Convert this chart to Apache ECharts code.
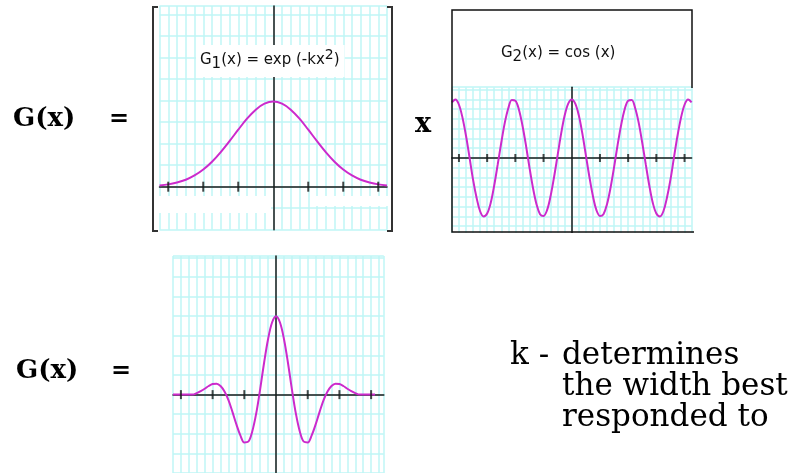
<!DOCTYPE html>
<html>
<head>
<meta charset="utf-8">
<script src="https://cdn.jsdelivr.net/npm/echarts@6/dist/echarts.min.js"></script>
<style>
  html, body { margin: 0; padding: 0; background: #ffffff; }
  #chart { width: 801px; height: 473px; }
</style>
</head>
<body>
<div id="chart"></div>
<script>
// Gaussian envelope G1(x) = exp(-k x^2)
const gaussX = [-3.25, -3, -2.75, -2.5, -2.25, -2, -1.75, -1.5, -1.25, -1, -0.75, -0.5, -0.25, 0,
                0.25, 0.5, 0.75, 1, 1.25, 1.5, 1.75, 2, 2.25, 2.5, 2.75, 3, 3.25];
const gaussY = [0.015, 0.027, 0.049, 0.081, 0.131, 0.200, 0.291, 0.403, 0.530, 0.663, 0.791, 0.896, 0.965, 0.99,
                0.965, 0.896, 0.791, 0.663, 0.530, 0.403, 0.291, 0.200, 0.131, 0.081, 0.049, 0.027, 0.015];

// Carrier G2(x) = cos(x)
const cosX = [-4.25, -4.125, -4, -3.875, -3.75, -3.625, -3.5, -3.375, -3.25, -3.125, -3, -2.875, -2.75, -2.625,
              -2.5, -2.375, -2.25, -2.125, -2, -1.875, -1.75, -1.625, -1.5, -1.375, -1.25, -1.125, -1, -0.875,
              -0.75, -0.625, -0.5, -0.375, -0.25, -0.125, 0,
              0.125, 0.25, 0.375, 0.5, 0.625, 0.75, 0.875, 1, 1.125, 1.25, 1.375, 1.5, 1.625, 1.75, 1.875, 2,
              2.125, 2.25, 2.375, 2.5, 2.625, 2.75, 2.875, 3, 3.125, 3.25, 3.375, 3.5, 3.625, 3.75, 3.875, 4,
              4.125, 4.25];
const cosY = [0.95, 1.0, 0.91, 0.69, 0.38, 0.01, -0.37, -0.68, -0.91, -1.0, -0.95, -0.77, -0.47, -0.11,
              0.26, 0.60, 0.85, 0.99, 0.98, 0.83, 0.56, 0.22, -0.16, -0.51, -0.79, -0.96, -0.99, -0.89,
              -0.65, -0.32, 0.05, 0.42, 0.73, 0.93, 1.0,
              0.93, 0.73, 0.42, 0.05, -0.32, -0.65, -0.89, -0.99, -0.96, -0.79, -0.51, -0.16, 0.22, 0.56, 0.83, 0.98,
              0.99, 0.85, 0.60, 0.26, -0.11, -0.47, -0.77, -0.95, -1.0, -0.91, -0.68, -0.37, 0.01, 0.38, 0.69, 0.91,
              1.0, 0.95];

// Product G(x) = G1(x) * G2(x)
const prodX = [-3.25, -3.125, -3, -2.875, -2.75, -2.625, -2.5, -2.375, -2.25, -2.125, -2, -1.875, -1.75, -1.625,
               -1.5, -1.375, -1.25, -1.125, -1, -0.875, -0.75, -0.625, -0.5, -0.375, -0.25, -0.125, 0,
               0.125, 0.25, 0.375, 0.5, 0.625, 0.75, 0.875, 1, 1.125, 1.25, 1.375, 1.5, 1.625, 1.75, 1.875, 2,
               2.125, 2.25, 2.375, 2.5, 2.625, 2.75, 2.875, 3, 3.125];
const prodY = [0, 0, 0, 0, 0, 0, 0.02, 0.045, 0.075, 0.11, 0.135, 0.14, 0.11, 0.04,
               -0.07, -0.22, -0.38, -0.52, -0.61, -0.60, -0.47, -0.24, 0.07, 0.41, 0.71, 0.92, 1.0,
               0.92, 0.71, 0.41, 0.07, -0.24, -0.47, -0.60, -0.61, -0.52, -0.38, -0.22, -0.07, 0.04, 0.11, 0.14, 0.135,
               0.11, 0.075, 0.045, 0.02, 0, 0, 0, 0, 0];

// Tick marks along each horizontal axis
const gaussTicks = [-3, -2, -1, 1, 2, 3];
const cosTicks = [-4, -3, -2, -1, 1, 2, 3, 4];
const prodTicks = [-3, -2, -1, 1, 2, 3];

const GRID_LINE = '#bff6f6';
const CURVE = '#cc2acc';
const AXIS = '#1a1a1a';

function pairs(xs, ys) { return xs.map((x, i) => [x, ys[i]]); }

function xAxisFor(gridIndex, min, max) {
  return {
    type: 'value', gridIndex, min, max, interval: 0.25,
    axisLabel: { show: false }, axisTick: { show: false },
    axisLine: { show: true, onZero: true, lineStyle: { color: AXIS, width: 1.5 } },
    splitLine: { show: true, lineStyle: { color: GRID_LINE, width: 1.5 } }
  };
}
function yAxisFor(gridIndex, min, max, interval) {
  return {
    type: 'value', gridIndex, min, max, interval,
    axisLabel: { show: false }, axisTick: { show: false },
    axisLine: { show: true, onZero: true, lineStyle: { color: AXIS, width: 1.5 } },
    splitLine: { show: true, lineStyle: { color: GRID_LINE, width: 1.5 } }
  };
}
function curve(i, xs, ys) {
  return {
    type: 'line', xAxisIndex: i, yAxisIndex: i, data: pairs(xs, ys),
    showSymbol: false, smooth: 0.35, silent: true, z: 4,
    lineStyle: { color: CURVE, width: 2 }
  };
}
function tickMarks(i, ticks, h) {
  return {
    type: 'scatter', xAxisIndex: i, yAxisIndex: i, data: ticks.map(t => [t, 0]),
    symbol: 'rect', symbolSize: [2, h], silent: true, z: 5,
    itemStyle: { color: AXIS }
  };
}

const labelRich = {
  n: { fontFamily: 'DejaVu Sans', fontWeight: 'normal', fontSize: 15, color: '#111', lineHeight: 24, verticalAlign: 'middle' },
  s: { fontFamily: 'DejaVu Sans', fontWeight: 'normal', fontSize: 15, color: '#111', lineHeight: 15, verticalAlign: 'bottom' },
  p: { fontFamily: 'DejaVu Sans', fontWeight: 'normal', fontSize: 14, color: '#111', lineHeight: 14, verticalAlign: 'top' }
};

const serifBold = (size) => 'bold ' + size + 'px "DejaVu Serif"';
const serif = (size) => size + 'px "DejaVu Serif"';
function txt(x, y, text, font) {
  return { type: 'text', x, y, z: 120, silent: true,
    style: { text, font, fill: '#000', textAlign: 'left', textVerticalAlign: 'middle', verticalAlign: 'middle' } };
}
function blank(x, y, w, h) {
  return { type: 'rect', z: 20, silent: true, shape: { x, y, width: w, height: h }, style: { fill: '#ffffff' } };
}

const chart = echarts.init(document.getElementById('chart'), null, { renderer: 'canvas' });
chart.setOption({
  animation: false,
  backgroundColor: '#ffffff',
  title: [
    { left: 196, top: 45, text: '{n|G}{s|1}{n|(x) = exp (-kx}{p|2}{n|)}', backgroundColor: '#ffffff',
      padding: [3, 5, 5, 4], textStyle: { fontWeight: 'normal', rich: labelRich } },
    { left: 497, top: 38, text: '{n|G}{s|2}{n|(x) = cos (x)}', backgroundColor: '#ffffff',
      padding: [3, 5, 5, 4], textStyle: { fontWeight: 'normal', rich: labelRich } }
  ],
  grid: [
    { left: 159.5, top: 6.1, width: 227.5, height: 223.6 },
    { left: 451.9, top: 87.2, width: 239.7, height: 148.8 },
    { left: 173, top: 255.9, width: 210.8, height: 224.4 }
  ],
  xAxis: [
    xAxisFor(0, -3.25, 3.25),
    xAxisFor(1, -4.25, 4.25),
    xAxisFor(2, -3.25, 3.4)
  ],
  yAxis: [
    yAxisFor(0, -0.5, 2.1, 0.25),
    yAxisFor(1, -8 / 6, 1.21, 1 / 6),
    yAxisFor(2, -1, 1.77, 0.25)
  ],
  series: [
    curve(0, gaussX, gaussY),
    curve(1, cosX, cosY),
    curve(2, prodX, prodY),
    tickMarks(0, gaussTicks, 10),
    tickMarks(1, cosTicks, 8),
    tickMarks(2, prodTicks, 9)
  ],
  graphic: [
    // blank band under the envelope's axis
    blank(157, 196, 114, 17),
    blank(312, 196, 76, 10),
    // square brackets around the envelope panel
    { type: 'polyline', z: 110, silent: true, shape: { points: [[158, 7], [153, 7], [153, 231], [158, 231]] },
      style: { stroke: '#333', lineWidth: 2, fill: null } },
    { type: 'polyline', z: 110, silent: true, shape: { points: [[387, 7], [392, 7], [392, 231], [387, 231]] },
      style: { stroke: '#333', lineWidth: 2, fill: null } },
    // frame of the carrier panel
    { type: 'rect', z: 105, silent: true, shape: { x: 445, y: 233, width: 260, height: 10 },
      style: { fill: '#ffffff' } },
    { type: 'polyline', z: 110, silent: true,
      shape: { points: [[692, 88], [692, 10], [452, 10], [452, 232], [694, 232]] },
      style: { stroke: '#111', lineWidth: 1.5, fill: null } },
    // equation text
    txt(13, 119.5, 'G(x)', serifBold(26)),
    txt(109, 119.5, '=', serifBold(24)),
    txt(415, 125, 'x', serifBold(27)),
    txt(16, 371.5, 'G(x)', serifBold(26)),
    txt(111, 371.5, '=', serifBold(24)),
    txt(510, 356, 'k -', serif(31)),
    txt(562, 356, 'determines', serif(31)),
    txt(562, 387, 'the width best', serif(31)),
    txt(562, 418, 'responded to', serif(31))
  ]
});
</script>
</body>
</html>
